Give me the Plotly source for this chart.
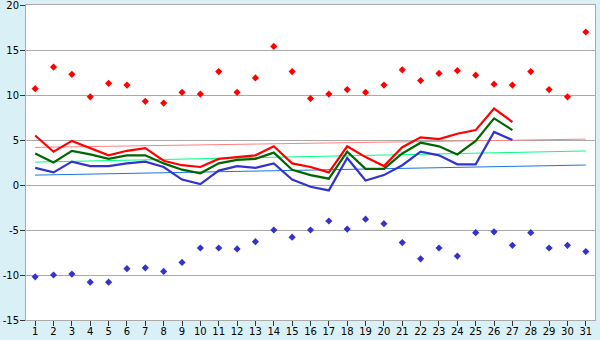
import plotly.graph_objects as go

days_all = list(range(1, 32))
days_line = list(range(1, 28))

y_ticks = [-15, -10, -5, 0, 5, 10, 15, 20]
y_tick_labels = ["-15", "-10", "-5", "0", "5", "10", "15", "20"]

max_points = [10.7, 13.1, 12.3, 9.8, 11.3, 11.1, 9.3, 9.1, 10.3, 10.1, 12.6, 10.3, 11.9, 15.4, 12.6,
              9.6, 10.1, 10.6, 10.3, 11.1, 12.8, 11.6, 12.4, 12.7, 12.2, 11.2, 11.1, 12.6, 10.6, 9.8, 17.0]
min_points = [-10.2, -10.0, -9.9, -10.8, -10.8, -9.3, -9.2, -9.6, -8.6, -7.0, -7.0, -7.1, -6.3, -5.0, -5.8,
              -5.0, -4.0, -4.9, -3.8, -4.3, -6.4, -8.2, -7.0, -7.9, -5.3, -5.2, -6.7, -5.3, -7.0, -6.7, -7.4]

red_line = [5.5, 3.7, 4.9, 4.1, 3.3, 3.8, 4.1, 2.7, 2.2, 2.0, 2.9, 3.1, 3.3, 4.3, 2.4, 2.0, 1.4, 4.3,
            3.1, 2.1, 4.2, 5.3, 5.1, 5.7, 6.1, 8.5, 7.0]
green_line = [3.5, 2.5, 3.8, 3.4, 2.9, 3.3, 3.3, 2.4, 1.7, 1.3, 2.4, 2.8, 2.9, 3.6, 1.7, 1.1, 0.7, 3.7,
              1.8, 1.8, 3.5, 4.7, 4.3, 3.4, 4.9, 7.4, 6.1]
blue_line = [1.9, 1.4, 2.6, 2.1, 2.1, 2.4, 2.6, 2.0, 0.6, 0.1, 1.6, 2.1, 1.9, 2.4, 0.6, -0.2, -0.6, 3.0,
             0.5, 1.1, 2.2, 3.7, 3.3, 2.3, 2.3, 5.9, 5.0]

trend_x = [1, 31]
red_trend = [4.18, 5.1]
green_trend = [2.55, 3.78]
blue_trend = [1.1, 2.22]

fig = go.Figure()

fig.add_trace(go.Scatter(x=trend_x, y=red_trend, mode="lines", line=dict(color="#ff8080", width=1)))
fig.add_trace(go.Scatter(x=trend_x, y=green_trend, mode="lines", line=dict(color="#00ff7f", width=1)))
fig.add_trace(go.Scatter(x=trend_x, y=blue_trend, mode="lines", line=dict(color="#1a75e0", width=1)))

fig.add_trace(go.Scatter(x=days_line, y=blue_line, mode="lines", line=dict(color="#3333cc", width=2.2)))
fig.add_trace(go.Scatter(x=days_line, y=green_line, mode="lines", line=dict(color="#006600", width=2.2)))
fig.add_trace(go.Scatter(x=days_line, y=red_line, mode="lines", line=dict(color="#ff0000", width=2.2)))

fig.add_trace(go.Scatter(x=days_all, y=max_points, mode="markers",
                         marker=dict(symbol="diamond", size=5.5, color="#ff0000", line=dict(width=0))))
fig.add_trace(go.Scatter(x=days_all, y=min_points, mode="markers",
                         marker=dict(symbol="diamond", size=5.5, color="#3333cc", line=dict(width=0))))

bg = "#d9f0f6"
grid = "#aaaaaa"
fig.update_layout(
    width=600, height=340,
    margin=dict(l=26, r=5, t=5, b=20, autoexpand=False),
    paper_bgcolor=bg, plot_bgcolor="white",
    showlegend=False,
    font=dict(family="DejaVu Sans", size=10, color="#000000"),
    xaxis=dict(range=[0.5, 31.5], tickmode="array", tickvals=days_all, automargin=False,
               showgrid=False, zeroline=False, showline=True, linecolor=grid, linewidth=1,
               mirror=True, ticks="outside", ticklen=5, tickcolor="#333333", tickwidth=1,
               ticklabeloverflow="allow", ticklabelstandoff=-3),
    yaxis=dict(range=[-15, 20], tickmode="array", tickvals=y_ticks, ticktext=y_tick_labels,
               automargin=False, tickfont=dict(size=10),
               showgrid=True, gridcolor=grid, gridwidth=1, zeroline=False,
               showline=True, linecolor=grid, linewidth=1, mirror=True,
               ticks="outside", ticklen=5, tickcolor="#333333", tickwidth=1,
               ticklabeloverflow="allow", ticklabelstandoff=-1),
)

fig.write_html("out.html")
